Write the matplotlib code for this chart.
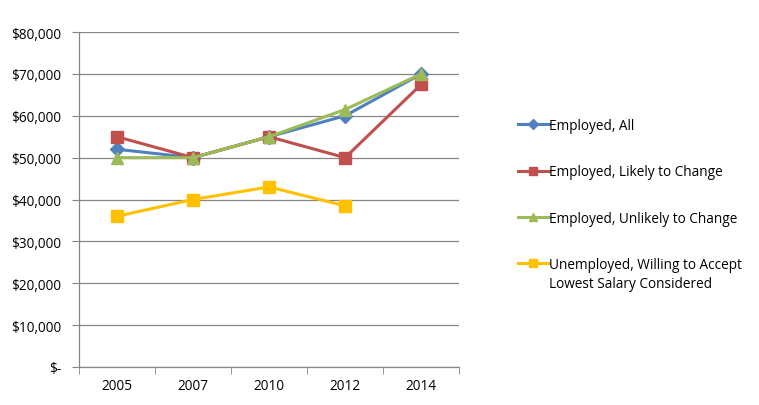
import matplotlib
matplotlib.use("Agg")
import matplotlib.pyplot as plt
import numpy as np
from matplotlib.ticker import FuncFormatter

years = ["2005", "2007", "2010", "2012", "2014"]
employed_all = [52000, 50000, 55000, 60000, 70000]
employed_likely = [55000, 50000, 55000, 50000, 67500]
employed_unlikely = [50000, 50000, 55000, 61500, 70000]
unemployed = [36000, 40000, 43000, 38500, np.nan]

series_names = ["Employed, All", "Employed, Likely to Change",
                "Employed, Unlikely to Change",
                "Unemployed, Willing to Accept"]
extra_line = "Lowest Salary Considered"

plt.rcParams['font.family'] = ['Open Sans', 'DejaVu Sans']

fig = plt.figure(figsize=(7.59, 4.06), dpi=100)
ax = fig.add_axes([0.104, 0.0936, 0.501, 0.825])

x = np.arange(len(years))
styles = [
    (employed_all, "#4F81BD", "D", 7),
    (employed_likely, "#C0504D", "s", 8),
    (employed_unlikely, "#9BBB59", "^", 8),
    (unemployed, "#FFC000", "s", 8),
]
handles = []
for (vals, c, m, ms), name in zip(styles, series_names):
    h, = ax.plot(x, vals, color=c, marker=m, markersize=ms, linewidth=2.2,
                 markeredgecolor=c, label=name, clip_on=False)
    handles.append(h)

ax.set_xlim(-0.5, len(years) - 0.5)
ax.set_ylim(0, 80000)
ax.set_yticks(np.arange(0, 80001, 10000))
ax.yaxis.set_major_formatter(FuncFormatter(lambda v, p: "$-" if v == 0 else "${:,.0f}".format(v)))
ax.set_xticks(x)
ax.set_xticklabels(years)
ax.set_xticks(np.arange(-0.5, len(years), 1), minor=True)
ax.tick_params(axis='x', which='major', length=0, pad=8)
ax.tick_params(axis='x', which='minor', length=5, color="#868686", direction='out')
ax.tick_params(axis='y', length=5, color="#868686", direction='out', pad=8)
ax.tick_params(labelsize=9.8, labelcolor="#000000")
ax.grid(axis='y', color="#868686", linewidth=0.9)
ax.set_axisbelow(True)
for s in ["top", "right"]:
    ax.spines[s].set_visible(False)
for s in ["left", "bottom"]:
    ax.spines[s].set_color("#868686")
    ax.spines[s].set_linewidth(0.9)

leg = fig.legend(handles=handles, loc='upper left', bbox_to_anchor=(0.675, 0.72),
                 frameon=False, fontsize=9.8, handlelength=2.3, handletextpad=0.0,
                 labelspacing=2.3, borderaxespad=0, markerscale=0.8)

fig.canvas.draw()
last = leg.get_texts()[-1]
bb = last.get_window_extent()
fig.text(bb.x0 / fig.bbox.width, (bb.y0 - 19) / fig.bbox.height, extra_line,
         fontsize=9.8, ha='left', va='bottom')

fig.savefig("out.png", dpi=100)
